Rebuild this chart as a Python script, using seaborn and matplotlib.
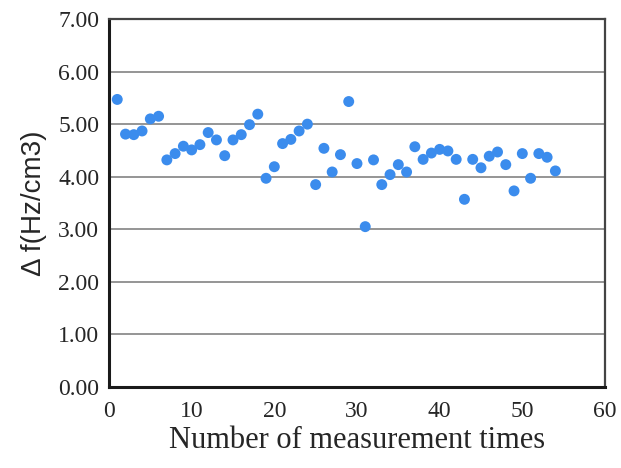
import matplotlib
matplotlib.use('Agg')
import matplotlib.pyplot as plt
from matplotlib.ticker import MultipleLocator
import seaborn as sns
import pandas as pd
import numpy as np

times = np.arange(1, 55)
delta_f = [5.47, 4.81, 4.80, 4.87, 5.10, 5.15, 4.32, 4.44, 4.58, 4.51,
           4.61, 4.84, 4.70, 4.40, 4.70, 4.80, 4.99, 5.19, 3.97, 4.19,
           4.63, 4.71, 4.87, 5.00, 3.85, 4.54, 4.09, 4.42, 5.43, 4.25,
           3.05, 4.32, 3.85, 4.04, 4.23, 4.09, 4.57, 4.33, 4.45, 4.52,
           4.49, 4.33, 3.57, 4.33, 4.17, 4.39, 4.47, 4.23, 3.73, 4.44,
           3.97, 4.44, 4.37, 4.11]
xticks = [0, 10, 20, 30, 40, 50, 60]
yticks = [0, 1, 2, 3, 4, 5, 6, 7]

df = pd.DataFrame({'times': times, 'delta_f': delta_f})

sns.set_style('white')
plt.rcParams['font.family'] = ['Liberation Serif', 'DejaVu Serif']

fig = plt.figure(figsize=(6.21, 4.68), dpi=100)
ax = fig.add_axes([0.1755, 0.1731, 0.7987, 0.7863])

ax.grid(axis='y', color='#8c8c8c', linewidth=1.3, zorder=0)
ax.set_axisbelow(True)
sns.scatterplot(data=df, x='times', y='delta_f', ax=ax, color='#3b8ced',
                s=62, edgecolor='none', zorder=3)

ax.set_xlim(0, 60)
ax.set_ylim(0, 7)
ax.set_xticks(xticks)
ax.set_yticks(yticks)
ax.set_yticklabels([f'{v:.2f}' for v in yticks])
ax.xaxis.set_minor_locator(MultipleLocator(2))
ax.yaxis.set_minor_locator(MultipleLocator(0.2))
ax.tick_params(which='both', direction='in', labelsize=17, color='#999999')
ax.tick_params(which='major', length=5, width=1)
ax.tick_params(which='minor', length=3, width=1)
ax.tick_params(axis='x', pad=10)
ax.tick_params(axis='y', pad=7)

for side in ['left', 'bottom']:
    ax.spines[side].set_color('#1a1a1a')
    ax.spines[side].set_linewidth(2.2)
for side in ['top', 'right']:
    ax.spines[side].set_color('#444444')
    ax.spines[side].set_linewidth(1.6)
    ax.spines[side].set_visible(True)

ax.set_xlabel('Number of measurement times', fontsize=22, labelpad=3)
ax.set_ylabel('Δ f(Hz/cm3)', fontsize=20, family=['Liberation Sans', 'DejaVu Sans'],
              labelpad=8)

fig.savefig('out.png', dpi=100)
